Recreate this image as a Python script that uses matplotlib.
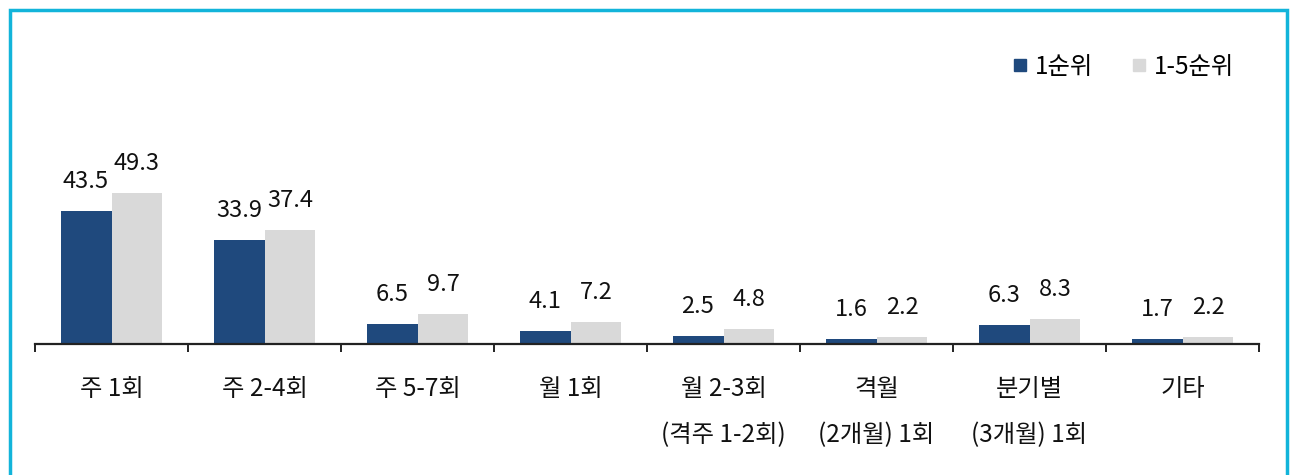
import numpy as np
import matplotlib.pyplot as plt
import matplotlib.patches as patches
from matplotlib.lines import Line2D

plt.rcParams['font.family'] = ['Noto Sans CJK KR', 'DejaVu Sans']

categories = ['주 1회', '주 2-4회', '주 5-7회', '월 1회',
              '월 2-3회\n(격주 1-2회)', '격월\n(2개월) 1회', '분기별\n(3개월) 1회', '기타']
rank1 = [43.5, 33.9, 6.5, 4.1, 2.5, 1.6, 6.3, 1.7]
rank1_5 = [49.3, 37.4, 9.7, 7.2, 4.8, 2.2, 8.3, 2.2]
series_names = ['1순위', '1-5순위']

DARK = '#1F497D'
LIGHT = '#D9D9D9'

W, H = 1290, 475
fig = plt.figure(figsize=(W / 100, H / 100), dpi=100)

# axes placed in pixel terms
left, right, base, top = 35, 1259, 344, 38
ax = fig.add_axes([left / W, (H - base) / H, (right - left) / W, (base - top) / H])

x = np.arange(len(categories))
bw = 0.333
b1 = ax.bar(x - bw / 2, rank1, bw, color=DARK, edgecolor='none')
b2 = ax.bar(x + bw / 2, rank1_5, bw, color=LIGHT, edgecolor='none')

for bars, vals in ((b1, rank1), (b2, rank1_5)):
    for r, v in zip(bars, vals):
        ax.annotate(f'{v:.1f}', (r.get_x() + r.get_width() / 2, v),
                    xytext=(0, 13), textcoords='offset points',
                    ha='center', va='bottom', fontsize=17, color='#111111')

ax.set_xlim(-0.5, len(categories) - 0.5)
ax.set_ylim(0, 100)
ax.set_yticks([])
for s in ('left', 'right', 'top'):
    ax.spines[s].set_visible(False)
ax.spines['bottom'].set_linewidth(1.6)
ax.spines['bottom'].set_color('#222222')

ax.set_xticks(np.arange(len(categories) + 1) - 0.5)
ax.set_xticklabels([])
ax.tick_params(axis='x', direction='out', length=6, width=1.4, color='#222222')
for i, c in enumerate(categories):
    ax.text(i, -0.105, c, transform=ax.get_xaxis_transform(), ha='center', va='top',
            fontsize=17.5, linespacing=2.0, color='#111111')

handles = [Line2D([], [], marker='s', linestyle='none', markersize=9, color=DARK),
           Line2D([], [], marker='s', linestyle='none', markersize=9, color=LIGHT)]
fig.legend(handles, series_names, loc='center right', bbox_to_anchor=(1256 / W, 1 - 67 / H),
           ncol=2, frameon=False, fontsize=17.5, handlelength=0.6, handletextpad=0.3,
           columnspacing=1.6)

# cyan frame
fig.patches.append(patches.Rectangle((10 / W, -0.1), (W - 13) / W, 1.1 - 10 / H,
                                     transform=fig.transFigure, fill=False,
                                     edgecolor='#12B4DA', linewidth=2.5))

fig.savefig('out.png', dpi=100)
